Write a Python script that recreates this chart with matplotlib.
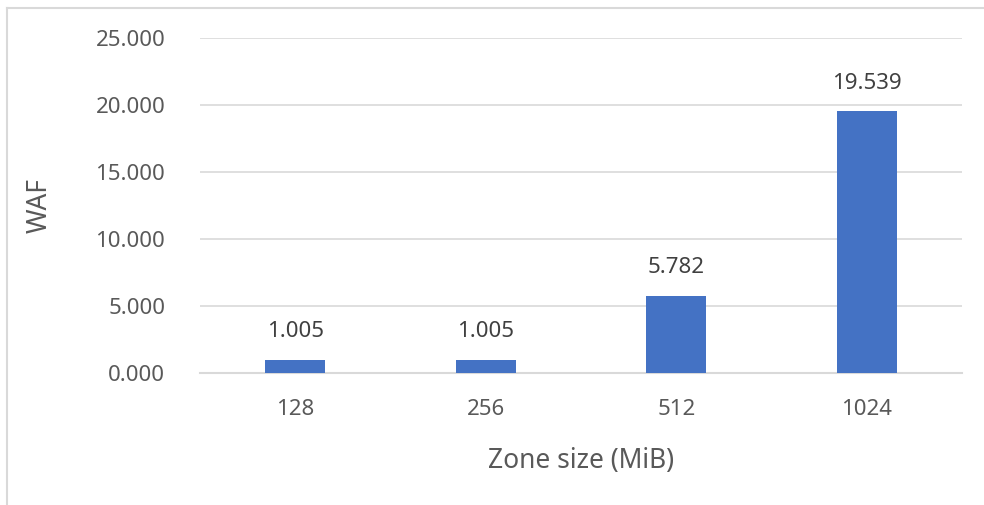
import numpy as np
import matplotlib.pyplot as plt
from matplotlib.lines import Line2D

plt.rcParams['font.family'] = ['Noto Sans', 'DejaVu Sans']

zone_sizes = ['128', '256', '512', '1024']
waf = [1.005, 1.005, 5.782, 19.539]
y_ticks = [0, 5, 10, 15, 20, 25]

bar_color = '#4472C4'
grid_color = '#D9D9D9'
text_color = '#595959'

fig = plt.figure(figsize=(9.84, 5.05), dpi=100)
ax = fig.add_axes([200/984, 1 - 373/505, 762/984, 335/505])

x = np.arange(len(zone_sizes))
bars = ax.bar(x, waf, width=0.315, color=bar_color, zorder=3)

for xi, v in zip(x, waf):
    ax.text(xi, v + 1.3, '%.3f' % v, ha='center', va='bottom',
            fontsize=16, color='#404040')

ax.set_xlim(-0.5, len(zone_sizes) - 0.5)
ax.set_ylim(0, 25)
ax.set_yticks(y_ticks)
ax.set_yticklabels(['%.3f' % t for t in y_ticks])
ax.set_xticks(x)
ax.set_xticklabels(zone_sizes)

ax.grid(axis='y', color=grid_color, linewidth=1.2, zorder=0)
for s in ['top', 'right', 'left']:
    ax.spines[s].set_visible(False)
ax.spines['bottom'].set_color(grid_color)
ax.spines['bottom'].set_linewidth(1.5)

ax.tick_params(axis='y', length=0, pad=25, labelsize=16, labelcolor=text_color)
ax.tick_params(axis='x', length=0, pad=19, labelsize=16, labelcolor=text_color)

ax.set_xlabel('Zone size (MiB)', fontsize=19, color=text_color, labelpad=19)
ax.set_ylabel('WAF', fontsize=19, color=text_color, labelpad=30)

# chart frame (only the top and left edges fall inside the image)
fig.add_artist(Line2D([7/984, 7/984], [0, 1 - 8/505], color=grid_color, linewidth=1.5,
                      transform=fig.transFigure))
fig.add_artist(Line2D([7/984, 1], [1 - 8/505, 1 - 8/505], color=grid_color, linewidth=1.5,
                      transform=fig.transFigure))

fig.savefig('out.png', dpi=100)
